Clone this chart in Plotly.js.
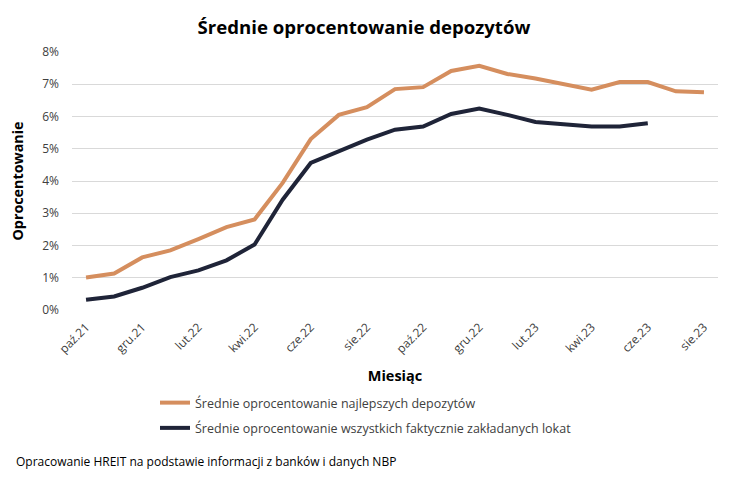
<!DOCTYPE html>
<html><head><meta charset="utf-8">
<script src="https://cdn.plot.ly/plotly-3.0.1.min.js"></script>
<style>html,body{margin:0;padding:0;background:#fff}#chart{width:756px;height:480px}</style>
</head><body><div id="chart"></div>
<script>
const months = ["paź.21","lis.21","gru.21","sty.22","lut.22","mar.22","kwi.22","maj.22","cze.22","lip.22","sie.22","wrz.22","paź.22","lis.22","gru.22","sty.23","lut.23","mar.23","kwi.23","maj.23","cze.23","lip.23","sie.23"];
const tickLabels = ["paź.21","gru.21","lut.22","kwi.22","cze.22","sie.22","paź.22","gru.22","lut.23","kwi.23","cze.23","sie.23"];
const bestDeposits = [1.01,1.13,1.63,1.85,2.20,2.57,2.81,3.94,5.30,6.05,6.29,6.85,6.91,7.41,7.57,7.32,7.18,6.99,6.83,7.07,7.07,6.78,6.75];
const allDeposits = [0.32,0.42,0.69,1.02,1.23,1.54,2.03,3.42,4.56,4.91,5.28,5.59,5.69,6.08,6.25,6.05,5.83,5.76,5.69,5.69,5.79,null,null];
const seriesNames = ["Średnie oprocentowanie najlepszych depozytów","Średnie oprocentowanie wszystkich faktycznie zakładanych lokat"];
const yTicks = [0,1,2,3,4,5,6,7,8];

const FONT = "'Open Sans', sans-serif";
const traces = [
  {x: months, y: bestDeposits, name: seriesNames[0], type:'scatter', mode:'lines',
   line:{color:'#D58E5E', width:4}, legendgroup:'a'},
  {x: months, y: allDeposits, name: seriesNames[1], type:'scatter', mode:'lines',
   line:{color:'#1F2438', width:4}, legendgroup:'b', connectgaps:false}
];
const layout = {
  width:756, height:480,
  margin:{l:72, r:38, t:52, b:170},
  paper_bgcolor:'#fff', plot_bgcolor:'#fff',
  font:{family:FONT, size:12, color:'#404040'},
  title:{text:'<b>Średnie oprocentowanie depozytów</b>', x:364/756, xanchor:'center', y:1-27/480, yanchor:'middle', yref:'container', xref:'container',
         font:{family:FONT, size:18.6, color:'#000'}},
  xaxis:{type:'category', range:[-0.5,22.5], tickmode:'array', tickvals:tickLabels, ticktext:tickLabels,
         tickangle:-45, ticks:'', showgrid:false, zeroline:false, showline:false,
         ticklabelstandoff:7,
         tickfont:{family:FONT, size:12, color:'#404040'},
         title:{text:'<b>Miesiąc</b>', font:{family:FONT, size:14.5, color:'#000'}, standoff:14}},
  yaxis:{range:[0,8], tickmode:'array', tickvals:yTicks, ticktext:yTicks.map(v=>v+'%'),
         gridcolor:'#D9D9D9', gridwidth:1, zeroline:false, showline:false, ticks:'',
         ticklabelstandoff:12,
         tickfont:{family:FONT, size:12, color:'#404040'},
         title:{text:'<b>Oprocentowanie</b>', font:{family:FONT, size:14.3, color:'#000'}, standoff:15}},
  showlegend:true,
  legend:{x:(155-72)/646, xanchor:'left', y:(310-388)/258, yanchor:'top', orientation:'v',
          traceorder:'grouped', tracegroupgap:6, font:{family:FONT, size:12.5, color:'#404040'}, bgcolor:'rgba(0,0,0,0)'},
  annotations:[{text:'Opracowanie HREIT na podstawie informacji z banków i danych NBP', xref:'paper', yref:'paper',
    x:(14-72)/646, y:(310-461)/258, xanchor:'left', yanchor:'middle', showarrow:false,
    font:{family:FONT, size:12, color:'#000'}}]
};
Plotly.newPlot('chart', traces, layout, {displayModeBar:false, staticPlot:true});
</script></body></html>
